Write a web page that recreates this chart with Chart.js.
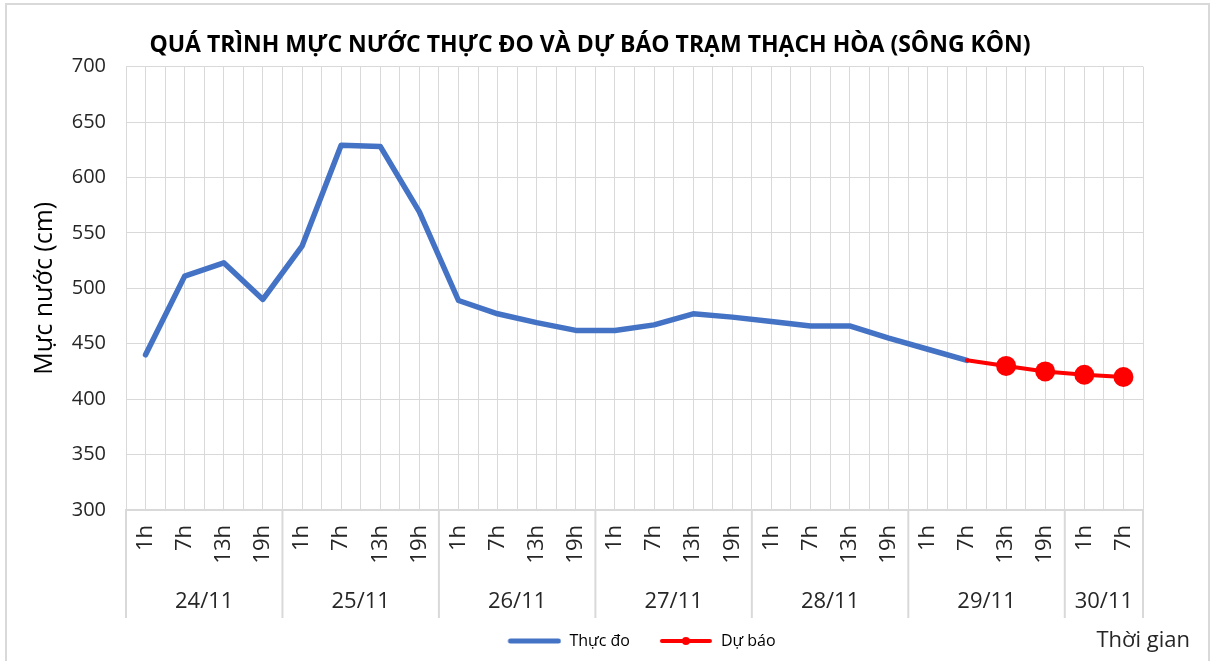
<!DOCTYPE html>
<html lang="vi">
<head>
  <meta charset="UTF-8" />
  <title>Mực nước trạm Thạch Hòa</title>
  <script src="https://cdn.jsdelivr.net/npm/chart.js@4.4.0"></script>
  <style>
    * { box-sizing: border-box; margin: 0; padding: 0; }
    body { background: #ffffff; width: 1213px; height: 661px; overflow: hidden; position: relative; }
    .frame {
      position: absolute; left: 5px; top: 3px; width: 1205px; height: 700px;
      border: 2px solid #d9d9d9; pointer-events: none;
    }
    .chart-box { position: absolute; left: 0; top: 0; width: 1213px; height: 661px; }
  </style>
</head>
<body>
  <div class="chart-box"><canvas id="waterChart"></canvas></div>
  <div class="frame"></div>

  <script>
    // hour of each reading (x categories)
    const hours = ['1h', '7h', '13h', '19h', '1h', '7h', '13h', '19h', '1h', '7h', '13h', '19h',
                   '1h', '7h', '13h', '19h', '1h', '7h', '13h', '19h', '1h', '7h', '13h', '19h',
                   '1h', '7h'];
    // second level of the axis: day and how many readings it spans
    const dayLabels = ['24/11', '25/11', '26/11', '27/11', '28/11', '29/11', '30/11'];
    const daySpans = [4, 4, 4, 4, 4, 4, 2];

    // water level (cm)
    const observed = [440, 511, 523, 490, 538, 629, 628, 569, 489, 477, 469, 462, 462, 467,
                      477, 474, 470, 466, 466, 455, 445, 435, null, null, null, null];
    const forecast = [null, null, null, null, null, null, null, null, null, null, null, null, null,
                      null, null, null, null, null, null, null, null, 435, 430, 425, 422, 420];

    const FONT = '"Open Sans", sans-serif';
    const GRID = '#d9d9d9';
    const TEXT = '#262626';
    const AXIS_H = 108;

    // legend icons: line (and dot) like the spreadsheet legend
    function legendIcon(color, width, dot) {
      const c = document.createElement('canvas');
      c.width = 68; c.height = 12;
      const g = c.getContext('2d');
      g.strokeStyle = color; g.lineWidth = width; g.lineCap = 'round';
      g.beginPath(); g.moveTo(17, 6); g.lineTo(65, 6); g.stroke();
      if (dot) {
        g.fillStyle = color;
        g.beginPath(); g.arc(41, 6, 4, 0, Math.PI * 2); g.fill();
      }
      return c;
    }
    const icons = [legendIcon('#4472c4', 5, false), legendIcon('#ff0000', 4, true)];

    // day row under the hour labels, plus the "Thời gian" caption
    const dayAxis = {
      id: 'dayAxis',
      afterDraw(chart) {
        const { ctx, chartArea, scales: { x } } = chart;
        const step = x.getPixelForValue(1) - x.getPixelForValue(0);
        const edge = i => x.getPixelForValue(i) - step / 2;
        const top = chartArea.bottom, bottom = chartArea.bottom + AXIS_H;
        ctx.save();
        ctx.strokeStyle = GRID;
        ctx.lineWidth = 2;
        const vline = px => {
          ctx.beginPath(); ctx.moveTo(px, top); ctx.lineTo(px, bottom); ctx.stroke();
        };
        ctx.font = '22px ' + FONT;
        ctx.fillStyle = TEXT;
        ctx.textAlign = 'center';
        ctx.textBaseline = 'middle';
        let start = 0;
        vline(edge(0));
        dayLabels.forEach((d, k) => {
          const end = start + daySpans[k];
          vline(edge(end));
          ctx.fillText(d, (edge(start) + edge(end)) / 2, top + 92);
          start = end;
        });
        ctx.textAlign = 'right';
        ctx.fillText('Thời gian', 1190, 641);
        ctx.restore();
      }
    };

    new Chart(document.getElementById('waterChart'), {
      type: 'line',
      data: {
        labels: hours,
        datasets: [
          {
            label: 'Thực đo',
            data: observed,
            borderColor: '#4472c4',
            backgroundColor: '#4472c4',
            borderWidth: 5.5,
            borderJoinStyle: 'round',
            borderCapStyle: 'round',
            pointRadius: 0,
            tension: 0,
            order: 1
          },
          {
            label: 'Dự báo',
            data: forecast,
            borderColor: '#ff0000',
            backgroundColor: '#ff0000',
            borderWidth: 4,
            borderJoinStyle: 'round',
            borderCapStyle: 'round',
            pointRadius: forecast.map((v, i) => (i === 21 ? 0 : 10)),
            pointBorderWidth: 0,
            tension: 0,
            order: 0
          }
        ]
      },
      options: {
        responsive: true,
        maintainAspectRatio: false,
        animation: false,
        layout: { padding: { left: 37, right: 70, top: 0, bottom: 2 } },
        plugins: {
          tooltip: { enabled: false },
          title: {
            display: true,
            text: 'QUÁ TRÌNH MỰC NƯỚC THỰC ĐO VÀ DỰ BÁO TRẠM THẠCH HÒA (SÔNG KÔN)',
            color: '#000000',
            font: { family: FONT, size: 23, weight: 'bold' },
            padding: { top: 32, bottom: 7 }
          },
          legend: {
            position: 'bottom',
            fullSize: false,
            labels: {
              usePointStyle: true,
              pointStyleWidth: 68,
              padding: 15,
              color: '#404040',
              font: { family: FONT, size: 16 },
              generateLabels: chart => chart.data.datasets.map((ds, i) => ({
                text: ds.label,
                pointStyle: icons[i],
                fillStyle: ds.borderColor,
                strokeStyle: ds.borderColor,
                lineWidth: 0,
                hidden: false,
                datasetIndex: i
              }))
            }
          }
        },
        scales: {
          x: {
            type: 'category',
            offset: true,
            grid: { color: GRID, offset: true, drawTicks: false, lineWidth: 1 },
            border: { color: GRID, width: 2 },
            ticks: {
              autoSkip: false,
              minRotation: 90,
              maxRotation: 90,
              padding: 15,
              color: TEXT,
              font: { family: FONT, size: 22 }
            },
            afterFit: s => { s.height = AXIS_H; }
          },
          // second category axis only for the grid lines through each reading
          xMid: {
            type: 'category',
            position: 'bottom',
            labels: hours,
            offset: true,
            grid: { color: GRID, offset: false, drawTicks: false, lineWidth: 1 },
            border: { display: false },
            ticks: { display: false },
            afterFit: s => { s.height = 0; }
          },
          y: {
            min: 300,
            max: 700,
            ticks: {
              stepSize: 50,
              padding: 20,
              color: TEXT,
              font: { family: FONT, size: 20 }
            },
            grid: { color: GRID, drawTicks: false, lineWidth: 1 },
            border: { color: GRID },
            title: {
              display: true,
              text: 'Mực nước (cm)',
              color: '#000000',
              font: { family: FONT, size: 25 },
              padding: { top: -7, bottom: 0 }
            },
            afterFit: s => { s.width = 89; }
          }
        }
      },
      plugins: [dayAxis]
    });
  </script>
</body>
</html>
